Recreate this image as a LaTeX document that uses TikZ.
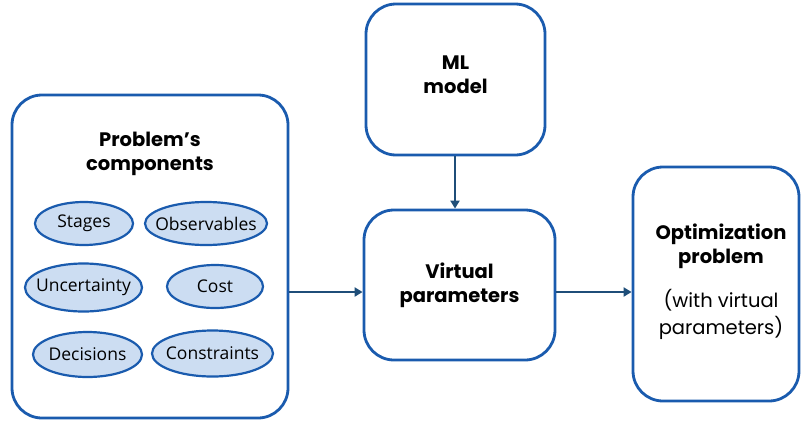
\documentclass[tikz,border=0pt]{standalone}
\usepackage{fontspec}
\setmainfont{Poppins}
\newfontfamily\ellfont{Open Sans}
\usetikzlibrary{arrows.meta,shapes.geometric}
\definecolor{boxblue}{HTML}{1A5BAE}
\definecolor{arrowblue}{HTML}{1F4E79}
\definecolor{ellfill}{HTML}{CCDDF2}
\newcommand{\zw}[1]{\makebox[0pt]{#1}}
\tikzset{
  bigbox/.style={draw=boxblue, line width=2.8pt, rounded corners=30pt, fill=white},
  comp/.style={ellipse, draw=boxblue, line width=2.2pt, fill=ellfill, inner sep=0pt, font=\ellfont\fontsize{17.5}{20}\selectfont},
  title/.style={align=center, font=\bfseries\fontsize{19.5}{24}\selectfont},
  plain/.style={align=center, font=\fontsize{19.5}{27}\selectfont},
  conn/.style={draw=arrowblue, line width=2.3pt, -{Triangle[length=8pt,width=9pt]}}
}
\begin{document}
\begin{tikzpicture}[x=1pt,y=-1pt]
\useasboundingbox (0,0) rectangle (802,423);
% boxes
\node[bigbox, minimum width=276pt, minimum height=323pt] (left) at (150,256.5) {};
\node[bigbox, minimum width=179pt, minimum height=151pt] (ml) at (455.5,79.5) {};
\node[bigbox, minimum width=191pt, minimum height=150pt] (vp) at (459.5,285) {};
\node[bigbox, minimum width=166pt, minimum height=234pt] (opt) at (716,284) {};
% texts
\node[title] (lt) at (150,153.5) {Problem’s\\components};
\node[title] (mlt) at (455.5,74.5) {ML\\model};
\node[title] (vpt) at (459.5,285.5) {Virtual\\parameters};
\node[title] (optt) at (721,246) {Optimization\\problem};
\node[plain] (optp) at (721,314) {(with virtual\\parameters)};
% ellipses
\node[comp, minimum width=98pt, minimum height=43pt] (stages) at (84,223.5) {\zw{Stages}};
\node[comp, minimum width=122pt, minimum height=43pt] (obs) at (206,223.5) {\zw{Observables}};
\node[comp, minimum width=117pt, minimum height=48pt] (unc) at (83.5,287.5) {\zw{Uncertainty}};
\node[comp, minimum width=96pt, minimum height=43pt] (cost) at (215,286.5) {\zw{Cost}};
\node[comp, minimum width=109pt, minimum height=45pt] (dec) at (87.5,354.5) {\zw{Decisions}};
\node[comp, minimum width=121pt, minimum height=46pt] (con) at (212.5,353.5) {\zw{Constraints}};
% connectors
\draw[conn] (ml.south -| 455,0) -- (vp.north -| 455,0);
\draw[conn] (left.east |- 0,292) -- (vp.west |- 0,292);
\draw[conn] (vp.east |- 0,292) -- (opt.west |- 0,292);
\end{tikzpicture}
\end{document}
